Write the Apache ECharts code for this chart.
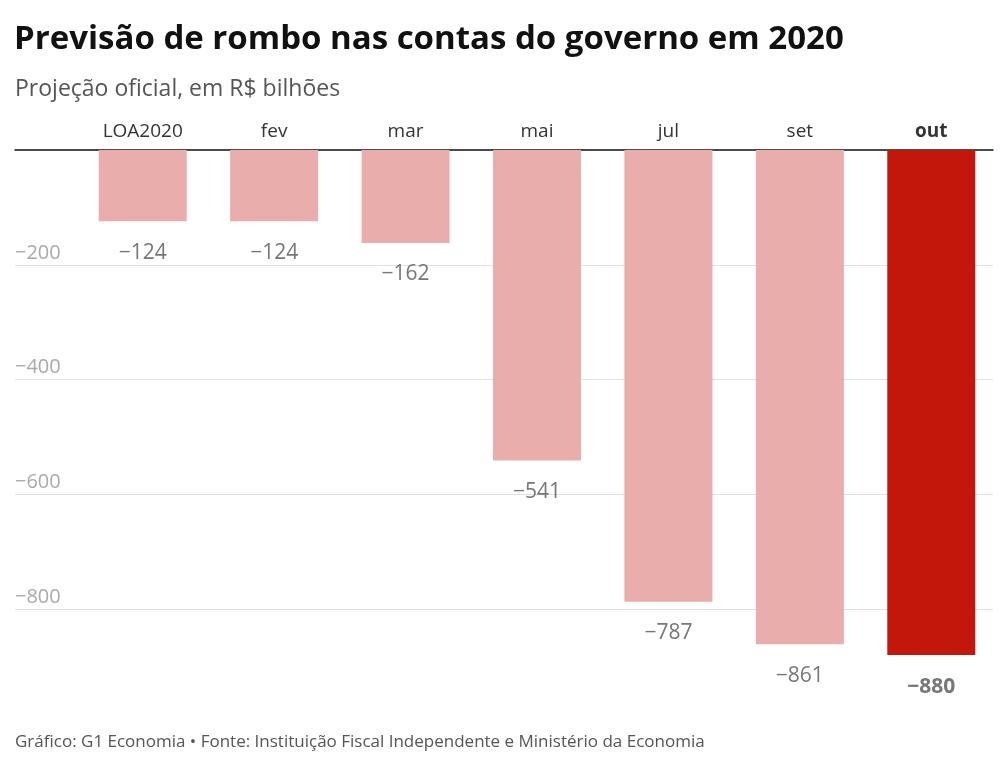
<!DOCTYPE html>
<html>
<head>
<meta charset="utf-8">
<script src="https://cdn.jsdelivr.net/npm/echarts@6/dist/echarts.min.js"></script>
<style>html,body{margin:0;padding:0;background:#fff;}#c{width:1008px;height:782px;}</style>
</head>
<body>
<div id="c"></div>
<script>
var categories = ['LOA2020', 'fev', 'mar', 'mai', 'jul', 'set', 'out'];
var values = [-124, -124, -162, -541, -787, -861, -880];
var highlightIndex = 6;
var yTicks = [-1000, -800, -600, -400, -200, 0];

var titleText = 'Previsão de rombo nas contas do governo em 2020';
var subtitleText = 'Projeção oficial, em R$ bilhões';
var footerText = 'Gráfico: G1 Economia • Fonte: Instituição Fiscal Independente e Ministério da Economia';

var FONT = 'Open Sans';
var chart = echarts.init(document.getElementById('c'));

function fmt(v) { return '\u2212' + Math.abs(v); }

var option = {
  backgroundColor: '#fff',
  animation: false,
  title: [
    { text: titleText, left: 14, top: 23, padding: 0,
      textStyle: { fontFamily: FONT, fontSize: 33, fontWeight: 'bold', color: '#111' } },
    { text: subtitleText, left: 15, top: 78, padding: 0,
      textStyle: { fontFamily: FONT, fontSize: 23, fontWeight: 'normal', color: '#555' } },
    { text: footerText, left: 15, top: 734, padding: 0,
      textStyle: { fontFamily: FONT, fontSize: 17, fontWeight: 'normal', color: '#555' } }
  ],
  grid: [
    { left: 77, right: 11, top: 150, bottom: 58 },
    { left: 15, right: 15, top: 150, bottom: 58 }
  ],
  xAxis: [
    { type: 'category', gridIndex: 0, position: 'top',
      data: categories.map(function (c, i) {
        return i === highlightIndex ? { value: c, textStyle: { fontWeight: 'bold', color: '#333' } } : c;
      }),
      axisLine: { show: false }, axisTick: { show: false },
      axisLabel: { fontFamily: FONT, fontSize: 19, color: '#333', margin: 9 } },
    { type: 'value', gridIndex: 1, position: 'top', min: 0, max: 1,
      axisLine: { show: true, onZero: false, lineStyle: { color: '#111', width: 1.5 } },
      axisTick: { show: false }, axisLabel: { show: false }, splitLine: { show: false } }
  ],
  yAxis: [
    { type: 'value', gridIndex: 0, min: yTicks[0], max: yTicks[yTicks.length - 1], interval: 200,
      show: false, splitLine: { show: false } },
    { type: 'value', gridIndex: 1, min: yTicks[0], max: yTicks[yTicks.length - 1], interval: 200,
      axisLine: { show: false }, axisTick: { show: false },
      axisLabel: { inside: true, margin: 0, verticalAlign: 'bottom', padding: [0, 0, 2, 0],
        fontFamily: FONT, fontSize: 20, color: '#aaa',
        formatter: function (v) { return (v === 0 || v === yTicks[0]) ? '' : fmt(v); } },
      splitLine: { show: true, lineStyle: { color: ['rgba(0,0,0,0)', '#e2e2e2', '#e2e2e2', '#e2e2e2', '#e2e2e2', 'rgba(0,0,0,0)'], width: 1 } } }
  ],
  series: [
    { type: 'bar', xAxisIndex: 0, yAxisIndex: 0, barWidth: 88,
      data: values.map(function (v, i) {
        var hi = i === highlightIndex;
        return { value: v,
          itemStyle: { color: hi ? '#c4170c' : '#e9aeab' },
          label: hi ? { fontWeight: 'bold', color: '#777' } : {} };
      }),
      label: { show: true, position: 'bottom', distance: 21,
        fontFamily: FONT, fontSize: 21, color: '#777',
        formatter: function (p) { return fmt(p.value); } } }
  ]
};
chart.setOption(option);
</script>
</body>
</html>
